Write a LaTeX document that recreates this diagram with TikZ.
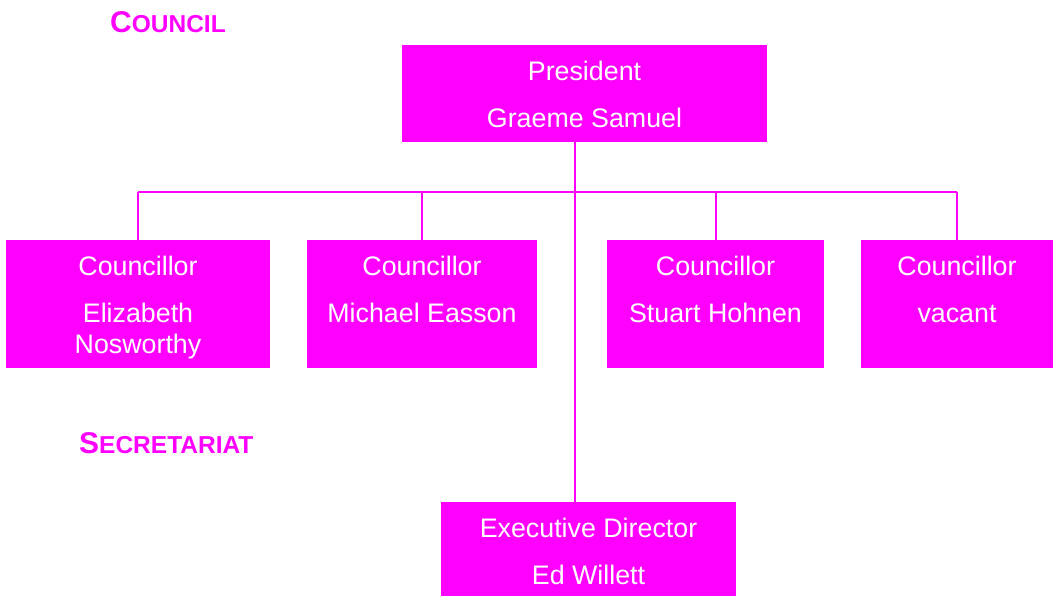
\documentclass[tikz,border=0pt]{standalone}
\usepackage{fontspec}
\setmainfont{Liberation Sans}
\usetikzlibrary{positioning}
\definecolor{council}{RGB}{255,0,255}

\tikzset{
  post/.style={fill=council, inner sep=0pt, outer sep=0pt},
  posttext/.style={text=white, align=center, anchor=north, inner sep=0pt,
    font=\fontsize{26.8}{31}\selectfont},
  wire/.style={draw=council, line width=2pt},
  heading/.style={text=council, anchor=base west, inner sep=0pt,
    font=\bfseries\fontsize{24.5}{28}\selectfont}
}

\begin{document}
\begin{tikzpicture}[x=1pt,y=-1pt]
\useasboundingbox (0,0) rectangle (1056,597);

% boxes
\node[post, minimum width=365pt, minimum height=97pt] (pres) at (584.5,93.5) {};
\node[post, minimum width=264pt, minimum height=128pt] (eliz) at (138,304) {};
\node[post, minimum width=230pt, minimum height=128pt] (mich) at (422,304) {};
\node[post, minimum width=217pt, minimum height=128pt] (stu) at (715.5,304) {};
\node[post, minimum width=192pt, minimum height=128pt] (vac) at (957,304) {};
\node[post, minimum width=295pt, minimum height=94pt] (exec) at (588.5,549) {};

% texts
\node[posttext] (pres-t) at ([yshift=-16pt]pres.north) {President\\[16pt]Graeme Samuel};
\node[posttext] (eliz-t) at ([yshift=-16pt]eliz.north) {Councillor\\[16pt]Elizabeth\\Nosworthy};
\node[posttext] (mich-t) at ([yshift=-16pt]mich.north) {Councillor\\[16pt]Michael Easson};
\node[posttext] (stu-t) at ([yshift=-16pt]stu.north) {Councillor\\[16pt]Stuart Hohnen};
\node[posttext] (vac-t) at ([yshift=-16pt]vac.north) {Councillor\\[16pt]vacant};
\node[posttext] (exec-t) at ([yshift=-16pt]exec.north) {Executive Director\\[16pt]Ed Willett};

% headings
\node[heading] (council) at (110,32) {{\fontsize{30}{30}\selectfont C}OUNCIL};
\node[heading] (secretariat) at (79,453) {{\fontsize{30}{30}\selectfont S}ECRETARIAT};

% lines
\coordinate (trunk) at (575,192);
\coordinate (bus) at (0,192);
\draw[wire] (pres.south -| trunk) -- (exec.north -| trunk);
\draw[wire] (eliz.north |- bus) -- (vac.north |- bus);
\foreach \n in {eliz,mich,stu,vac}
  \draw[wire] (\n.north |- bus) -- (\n.north);
\end{tikzpicture}
\end{document}
